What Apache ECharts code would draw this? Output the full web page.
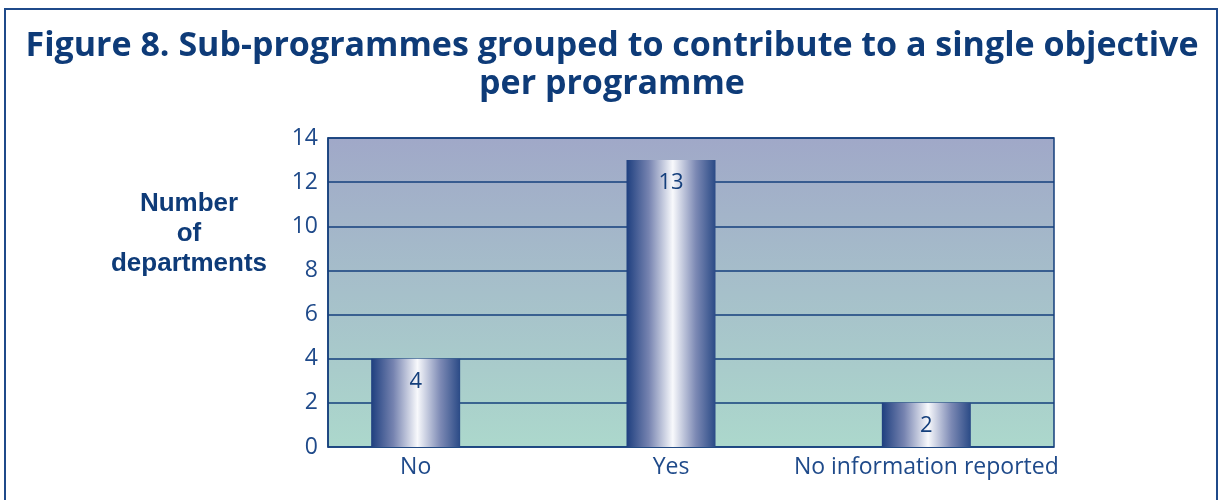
<!DOCTYPE html>
<html>
<head>
<meta charset="utf-8">
<script src="https://cdn.jsdelivr.net/npm/echarts@6/dist/echarts.min.js"></script>
<style>
  html, body { margin: 0; padding: 0; background: #ffffff; }
  #chart { width: 1220px; height: 500px; }
</style>
</head>
<body>
<div id="chart"></div>
<script>
// Survey result: departments grouping sub-programmes under one objective
const categories = ['No', 'Yes', 'No information reported'];
const departments = [4, 13, 2];
const yTickValues = [0, 2, 4, 6, 8, 10, 12, 14];

const navy = '#143f7c';
const inkBlue = '#1f4a8a';
const titleBlue = '#0e3b78';

const yMin = yTickValues[0];
const yMax = yTickValues[yTickValues.length - 1];
const yStep = yTickValues[1] - yTickValues[0];

// Cylinder-like shading across each bar
const barFill = new echarts.graphic.LinearGradient(0, 0, 1, 0, [
  { offset: 0, color: '#1e3f7f' },
  { offset: 0.25, color: '#7683b0' },
  { offset: 0.52, color: '#f8f9fc' },
  { offset: 0.78, color: '#7c89b4' },
  { offset: 1, color: '#2a4a86' }
]);

const plotFill = new echarts.graphic.LinearGradient(0, 0, 0, 1, [
  { offset: 0, color: '#a0a8c8' },
  { offset: 1, color: '#acd8cc' }
]);

const chart = echarts.init(document.getElementById('chart'), null, { renderer: 'canvas' });

chart.setOption({
  animation: false,
  backgroundColor: '#ffffff',
  graphic: [
    {
      type: 'rect',
      shape: { x: 5, y: 9, width: 1212, height: 510 },
      style: { fill: null, stroke: inkBlue, lineWidth: 2 },
      silent: true,
      z: 100
    },
    {
      type: 'text',
      style: {
        text: 'Figure 8. Sub-programmes grouped to contribute to a single objective\nper programme',
        x: 612,
        y: 27,
        align: 'center',
        verticalAlign: 'top',
        fill: titleBlue,
        font: 'bold 34px "Open Sans", sans-serif',
        lineHeight: 38
      }
    },
    {
      type: 'text',
      style: {
        text: 'Number\nof\ndepartments',
        x: 189,
        y: 189,
        align: 'center',
        verticalAlign: 'top',
        fill: titleBlue,
        font: 'bold 26px "Liberation Sans", Arial, sans-serif',
        lineHeight: 30
      }
    }
  ],
  grid: [
    {
      // plot frame with background and gridlines
      left: 328, right: 166, top: 138, bottom: 53,
      show: true,
      backgroundColor: plotFill,
      borderColor: navy,
      borderWidth: 1.5
    },
    {
      // bar layer
      left: 288, right: 166, top: 138, bottom: 53
    }
  ],
  xAxis: [
    {
      gridIndex: 0,
      type: 'category',
      data: categories,
      show: false
    },
    {
      gridIndex: 1,
      type: 'category',
      data: categories,
      axisLine: { show: false },
      axisTick: { show: false },
      axisLabel: {
        interval: 0,
        hideOverlap: false,
        margin: 9,
        fontFamily: 'Open Sans',
        fontSize: 23,
        color: inkBlue
      }
    }
  ],
  yAxis: [
    {
      gridIndex: 0,
      type: 'value',
      min: yMin,
      max: yMax,
      interval: yStep,
      axisLine: { show: true, lineStyle: { color: navy, width: 1.5 } },
      axisTick: { show: false },
      axisLabel: {
        margin: 10,
        fontFamily: 'Open Sans',
        fontSize: 23,
        color: inkBlue
      },
      splitLine: { show: true, lineStyle: { color: navy, width: 1.5 } }
    },
    {
      gridIndex: 1,
      type: 'value',
      min: yMin,
      max: yMax,
      interval: yStep,
      show: false,
      splitLine: { show: false }
    }
  ],
  series: [
    {
      type: 'bar',
      xAxisIndex: 1,
      yAxisIndex: 1,
      data: departments,
      barWidth: 89,
      itemStyle: { color: barFill },
      label: {
        show: true,
        position: 'insideTop',
        distance: 12,
        fontFamily: 'Open Sans',
        fontSize: 22,
        color: navy
      }
    }
  ]
});
</script>
</body>
</html>
